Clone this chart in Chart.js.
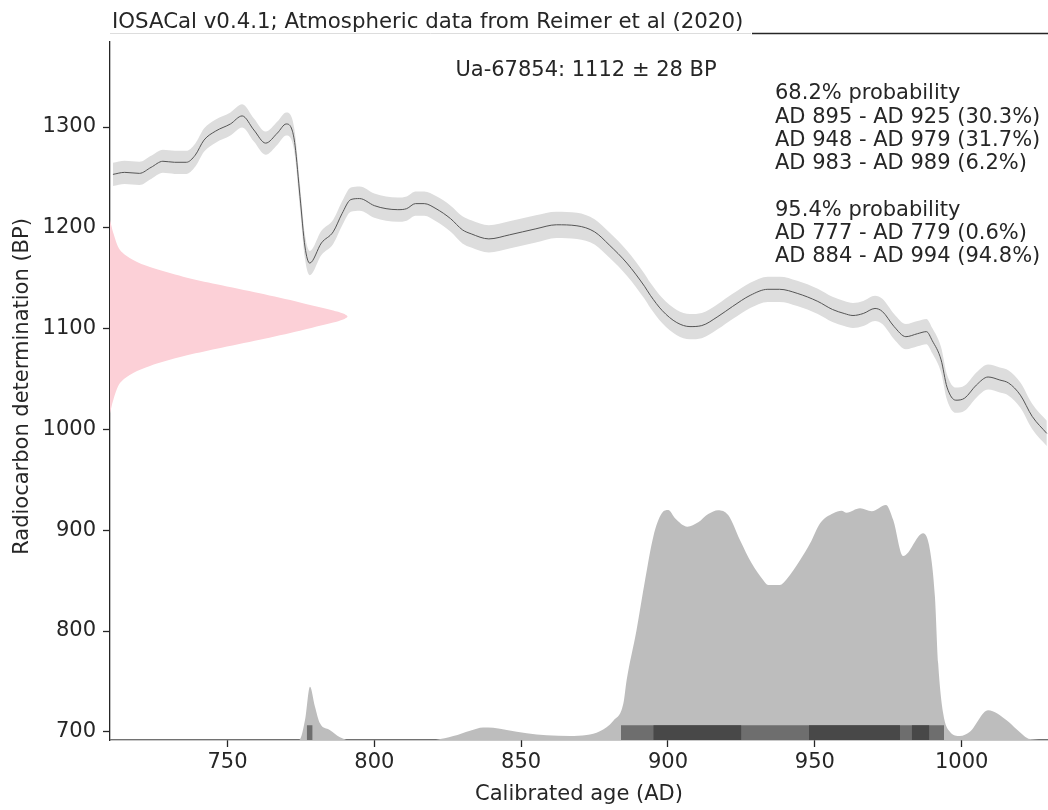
<!DOCTYPE html>
<html>
<head>
<meta charset="utf-8">
<script src="https://cdn.jsdelivr.net/npm/chart.js@4.4.1/dist/chart.umd.min.js"></script>
<style>
  html, body { margin: 0; padding: 0; background: #fff; }
</style>
</head>
<body>
<canvas id="chart" width="1048" height="810"></canvas>
<script>
(function () {
    "use strict";

    // IntCal20 curve (years AD, BP, one-sigma)
    const calYears = [711, 715, 720, 724, 728, 732, 736, 739, 742, 746, 751, 755, 759, 763, 767, 770, 772, 773, 774.7, 776.4, 778, 782, 786, 789, 792, 795, 800, 804, 808, 811, 814, 817, 821, 826, 830, 833, 839, 846, 855, 862, 869, 875, 880, 886, 892, 894, 898, 903, 907.5, 911.5, 917, 922, 928, 934, 938, 944, 951, 956, 960, 963, 966.5, 970.5, 973, 977, 981, 985, 988, 990, 993, 995, 998, 1001, 1005, 1009, 1013, 1016, 1020, 1024, 1029];
    const calBP = [1253, 1255, 1254, 1260, 1266, 1265, 1265, 1272, 1287, 1296, 1303, 1311, 1297, 1284, 1294, 1303, 1297, 1282, 1231, 1181, 1165, 1185, 1196, 1214, 1228, 1229, 1222, 1219, 1218, 1219, 1224, 1224, 1219, 1209, 1198, 1194, 1189, 1193, 1199, 1203, 1202, 1196, 1183, 1165, 1142, 1133, 1118, 1106, 1102, 1103, 1112, 1122, 1133, 1139, 1139, 1135, 1127, 1119, 1115, 1113, 1115, 1120, 1117, 1102, 1092, 1095, 1097, 1088, 1069, 1042, 1029, 1031, 1044, 1052, 1049, 1046, 1034, 1013, 996];
    const calError = [11.5, 11.5, 11.5, 11.5, 11.5, 11.5, 11.5, 11.5, 11.5, 11.5, 11.5, 11.5, 11.5, 11.5, 11.5, 11.5, 11.5, 11.5, 12, 12, 12, 12, 12, 12, 12, 12, 12, 12, 12, 12, 12, 12, 12.5, 13, 13.5, 13.5, 13.5, 13.5, 13.5, 13, 13, 12.5, 12.5, 12.5, 12.5, 12.5, 12.5, 12.5, 12.5, 12.5, 12.5, 12.5, 12.5, 12.5, 12.5, 12.5, 12.5, 12.5, 12.5, 12.5, 12.5, 12.5, 12.5, 12.5, 12.5, 12.5, 12.5, 12.5, 12.5, 12.5, 12.5, 12.5, 12.5, 12.5, 12.5, 12.5, 12.5, 12.5, 12.5];

    // calibrated probability, drawn on the BP axis above its baseline
    const probYears = [710, 774.5, 776.4, 778.1, 779.8, 781.5, 784.8, 788.3, 790.6, 821, 826.9, 832.6, 837.1, 840.5, 845.1, 851.9, 858.7, 866.6, 872.3, 876.8, 881.4, 884.8, 885.9, 889.3, 892.2, 895, 897.9, 900.1, 902.4, 906.6, 910.3, 913.7, 917.1, 920.5, 924.5, 928.5, 932.4, 934.1, 938.1, 940.4, 945, 948.4, 951.8, 956.3, 959.1, 960.8, 965.4, 969.4, 974.2, 976.7, 980.1, 986.9, 989.2, 990.9, 992, 993.7, 996, 999.4, 1002.8, 1009, 1015.3, 1018.7, 1023.3, 1029.4];
    const probBP = [692.3, 692.5, 711.7, 744.7, 725, 708.4, 701.8, 694.6, 692.5, 692.5, 695.8, 701.1, 704.4, 704, 701.8, 698.5, 696.5, 695.8, 696.8, 700.5, 711, 728, 751, 801, 850.6, 893.6, 916.8, 920, 911.8, 903.5, 907.8, 916, 919.8, 915, 890.3, 867.2, 850.6, 845.6, 845.6, 851.3, 870.4, 887, 906.9, 916.8, 919.4, 917.4, 921.7, 918.8, 925, 910.1, 874.4, 896.9, 880.4, 834, 768, 718.4, 700, 695.8, 700, 721.3, 711.4, 702.5, 692.8, 692.3];

    // the measurement Ua-67854 (1112 +/- 28 BP), width in years from the left edge
    const dateBP = [1208, 1195, 1178, 1168, 1161, 1151.5, 1144, 1135, 1126, 1118, 1115, 1112, 1109, 1106, 1098, 1089, 1080, 1072.5, 1063, 1056, 1046, 1029, 1016];
    const dateWidth = [0, 1.1, 3.4, 7.9, 13.6, 24.9, 36.3, 51, 64.7, 76, 79.4, 80.9, 79.4, 76, 64.7, 51, 36.3, 24.9, 13.6, 7.9, 3.4, 1.1, 0];

    // highest density ranges (AD)
    const ranges95 = [[777, 779], [884, 994]];
    const ranges68 = [[895, 925], [948, 979], [983, 989]];

    const xTicks = [750, 800, 850, 900, 950, 1000];
    const yTicks = [700, 800, 900, 1000, 1100, 1200, 1300];

    const titleText = "IOSACal v0.4.1; Atmospheric data from Reimer et al (2020)";
    const sampleText = "Ua-67854: 1112 \u00b1 28 BP";
    const rangeText = [
        "68.2% probability",
        "AD 895 - AD 925 (30.3%)",
        "AD 948 - AD 979 (31.7%)",
        "AD 983 - AD 989 (6.2%)",
        "",
        "95.4% probability",
        "AD 777 - AD 779 (0.6%)",
        "AD 884 - AD 994 (94.8%)",
    ];

    const xMin = 710;
    const xMax = 1029.4;
    const yMin = 691.9;
    const yMax = 1393.25;
    const barTop = 706.6;
    const textColor = "#262626";
    const font = '"DejaVu Sans", sans-serif';

    Chart.defaults.font.family = font;
    Chart.defaults.font.size = 21;
    Chart.defaults.color = textColor;

    const xy = (xs, ys) => xs.map((x, i) => ({ x: x, y: ys[i] }));

    const rangeSet = (r, color, order) => ({
        data: [{ x: r[0], y: barTop }, { x: r[1], y: barTop }],
        borderWidth: 0,
        pointRadius: 0,
        fill: "start",
        backgroundColor: color,
        order: order,
    });

    const datasets = [
        {
            // lower edge of the band
            data: xy(calYears, calBP.map((v, i) => v - calError[i])),
            borderWidth: 0,
            pointRadius: 0,
            cubicInterpolationMode: "monotone",
            fill: false,
            order: 6,
        },
        {
            // upper edge of the band, filled down to the lower edge
            data: xy(calYears, calBP.map((v, i) => v + calError[i])),
            borderWidth: 0,
            pointRadius: 0,
            cubicInterpolationMode: "monotone",
            fill: 0,
            backgroundColor: "#dddddd",
            order: 5,
        },
        {
            data: xy(calYears, calBP),
            borderColor: "#555555",
            borderWidth: 1,
            pointRadius: 0,
            cubicInterpolationMode: "monotone",
            fill: false,
            order: 4,
        },
        {
            data: xy(dateWidth.map((w) => xMin + w), dateBP),
            borderWidth: 0,
            pointRadius: 0,
            tension: 0.3,
            fill: "shape",
            backgroundColor: "#fcd0d7",
            order: 3,
        },
        {
            data: xy(probYears, probBP),
            borderWidth: 0,
            pointRadius: 0,
            cubicInterpolationMode: "monotone",
            fill: "start",
            backgroundColor: "#bdbdbd",
            order: 2,
        },
    ];
    ranges95.forEach((r) => datasets.push(rangeSet(r, "#6e6e6e", 1)));
    ranges68.forEach((r) => datasets.push(rangeSet(r, "#484848", 0)));

    // texts inside the plot and the title over the top spine
    const annotate = {
        id: "annotate",
        afterDraw(chart) {
            const ctx = chart.ctx;
            const area = chart.chartArea;
            ctx.save();
            ctx.strokeStyle = textColor;
            ctx.lineWidth = 1.3;
            ctx.beginPath();
            ctx.moveTo(area.left, area.top + 0.5);
            ctx.lineTo(area.right, area.top + 0.5);
            ctx.stroke();

            ctx.fillStyle = "#ffffff";
            ctx.fillRect(area.left - 1, 0, 643, 41);
            ctx.strokeStyle = "#dddddd";
            ctx.lineWidth = 1;
            ctx.beginPath();
            ctx.moveTo(area.left, area.top + 0.5);
            ctx.lineTo(area.left + 641, area.top + 0.5);
            ctx.stroke();

            ctx.font = "21.3px " + font;
            ctx.fillStyle = textColor;
            ctx.textBaseline = "alphabetic";
            ctx.textAlign = "left";
            ctx.fillText(titleText, 112, 28);

            ctx.font = "21px " + font;
            ctx.textAlign = "center";
            ctx.fillText(sampleText, 586, 76);

            ctx.textAlign = "left";
            rangeText.forEach((line, i) => {
                ctx.fillText(line, 775, 99.2 + i * 23.3);
            });
            ctx.restore();
        },
    };

    const axisStyle = {
        grid: {
            display: true,
            drawOnChartArea: false,
            drawTicks: true,
            tickLength: 7,
            tickWidth: 1.3,
            tickColor: textColor,
        },
        border: { display: true, color: textColor, width: 1.3 },
    };

    const ctx = document.getElementById("chart").getContext("2d");
    new Chart(ctx, {
        type: "line",
        data: { datasets: datasets },
        options: {
            responsive: false,
            animation: false,
            events: [],
            layout: { padding: { top: 33, left: 0, right: 0, bottom: 0 } },
            plugins: {
                legend: { display: false },
                tooltip: { enabled: false },
            },
            scales: {
                x: {
                    type: "linear",
                    min: xMin,
                    max: xMax,
                    afterBuildTicks: (scale) => {
                        scale.ticks = xTicks.map((v) => ({ value: v }));
                    },
                    afterFit: (scale) => {
                        scale.height = 70;
                    },
                    ticks: {
                        padding: 3,
                        color: textColor,
                        callback: (v) => String(v),
                    },
                    title: {
                        display: true,
                        text: "Calibrated age (AD)",
                        color: textColor,
                        padding: { top: 0, bottom: 3 },
                    },
                    ...axisStyle,
                },
                y: {
                    type: "linear",
                    min: yMin,
                    max: yMax,
                    afterBuildTicks: (scale) => {
                        scale.ticks = yTicks.map((v) => ({ value: v }));
                    },
                    afterFit: (scale) => {
                        scale.width = 110;
                    },
                    ticks: {
                        padding: 7,
                        color: textColor,
                        callback: (v) => String(v),
                    },
                    title: {
                        display: true,
                        text: "Radiocarbon determination (BP)",
                        color: textColor,
                        padding: { top: 10, bottom: 0 },
                    },
                    ...axisStyle,
                },
            },
        },
        plugins: [annotate],
    });
})();
</script>
</body>
</html>
